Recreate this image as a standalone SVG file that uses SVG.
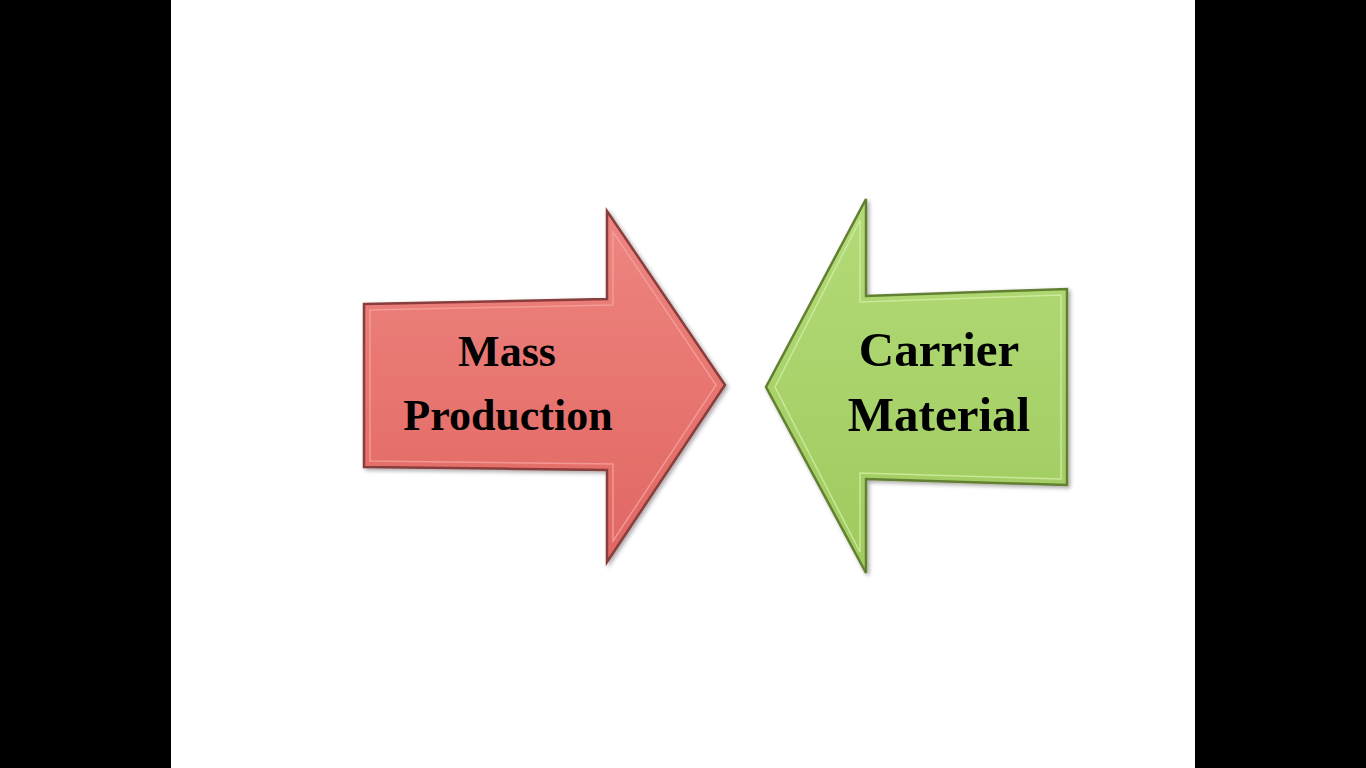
<svg xmlns="http://www.w3.org/2000/svg" width="1366" height="768" viewBox="0 0 1366 768">
  <defs>
    <linearGradient id="redFill" x1="0" y1="0" x2="0" y2="1">
      <stop offset="0" stop-color="#ee8682"/>
      <stop offset="0.5" stop-color="#e87570"/>
      <stop offset="1" stop-color="#e06764"/>
    </linearGradient>
    <linearGradient id="greenFill" x1="0" y1="0" x2="0" y2="1">
      <stop offset="0" stop-color="#b3da78"/>
      <stop offset="0.5" stop-color="#a9d36b"/>
      <stop offset="1" stop-color="#9fca5e"/>
    </linearGradient>
    <filter id="shadow" x="-10%" y="-10%" width="120%" height="120%">
      <feGaussianBlur in="SourceAlpha" stdDeviation="2"/>
      <feOffset dx="2" dy="2" result="b"/>
      <feComponentTransfer><feFuncA type="linear" slope="0.35"/></feComponentTransfer>
      <feMerge><feMergeNode/><feMergeNode in="SourceGraphic"/></feMerge>
    </filter>
    <style>
      .label { font-family: "Liberation Serif", "Times New Roman", serif; font-weight: bold; fill: #000; text-anchor: middle; }
      .redEdge { fill: url(#redFill); stroke: #8a3c3c; stroke-width: 2.5; stroke-linejoin: miter; }
      .redInner { fill: none; stroke: #f5a29e; stroke-width: 1.5; opacity: 0.8; }
      .greenEdge { fill: url(#greenFill); stroke: #627f30; stroke-width: 2.5; stroke-linejoin: miter; }
      .greenInner { fill: none; stroke: #d3eda6; stroke-width: 1.5; opacity: 0.8; }
    </style>
  </defs>
  <rect x="0" y="0" width="1366" height="768" fill="#ffffff"/>
  <rect x="0" y="0" width="171" height="768" fill="#000000"/>
  <rect x="1195" y="0" width="171" height="768" fill="#000000"/>

  <g id="connectors"></g>

  <g id="mass-production">
    <polygon class="redEdge" filter="url(#shadow)" points="364,304 607,299 607,211 725,385 607,562 607,470 364,467"/>
    <polygon class="redInner" points="370,310 613,305 613,232 716,385 613,541 613,464 370,461"/>
    <text class="label" x="507" y="366" font-size="44">Mass</text>
    <text class="label" x="508" y="430" font-size="44">Production</text>
  </g>

  <g id="carrier-material">
    <polygon class="greenEdge" filter="url(#shadow)" points="1067,289 1067,485 866,479 866,573 766,387 866,199 866,296"/>
    <polygon class="greenInner" points="1061,295 1061,479 860,473 860,552 775,387 860,220 860,302"/>
    <text class="label" x="939" y="366" font-size="49">Carrier</text>
    <text class="label" x="939" y="431" font-size="49">Material</text>
  </g>
</svg>
